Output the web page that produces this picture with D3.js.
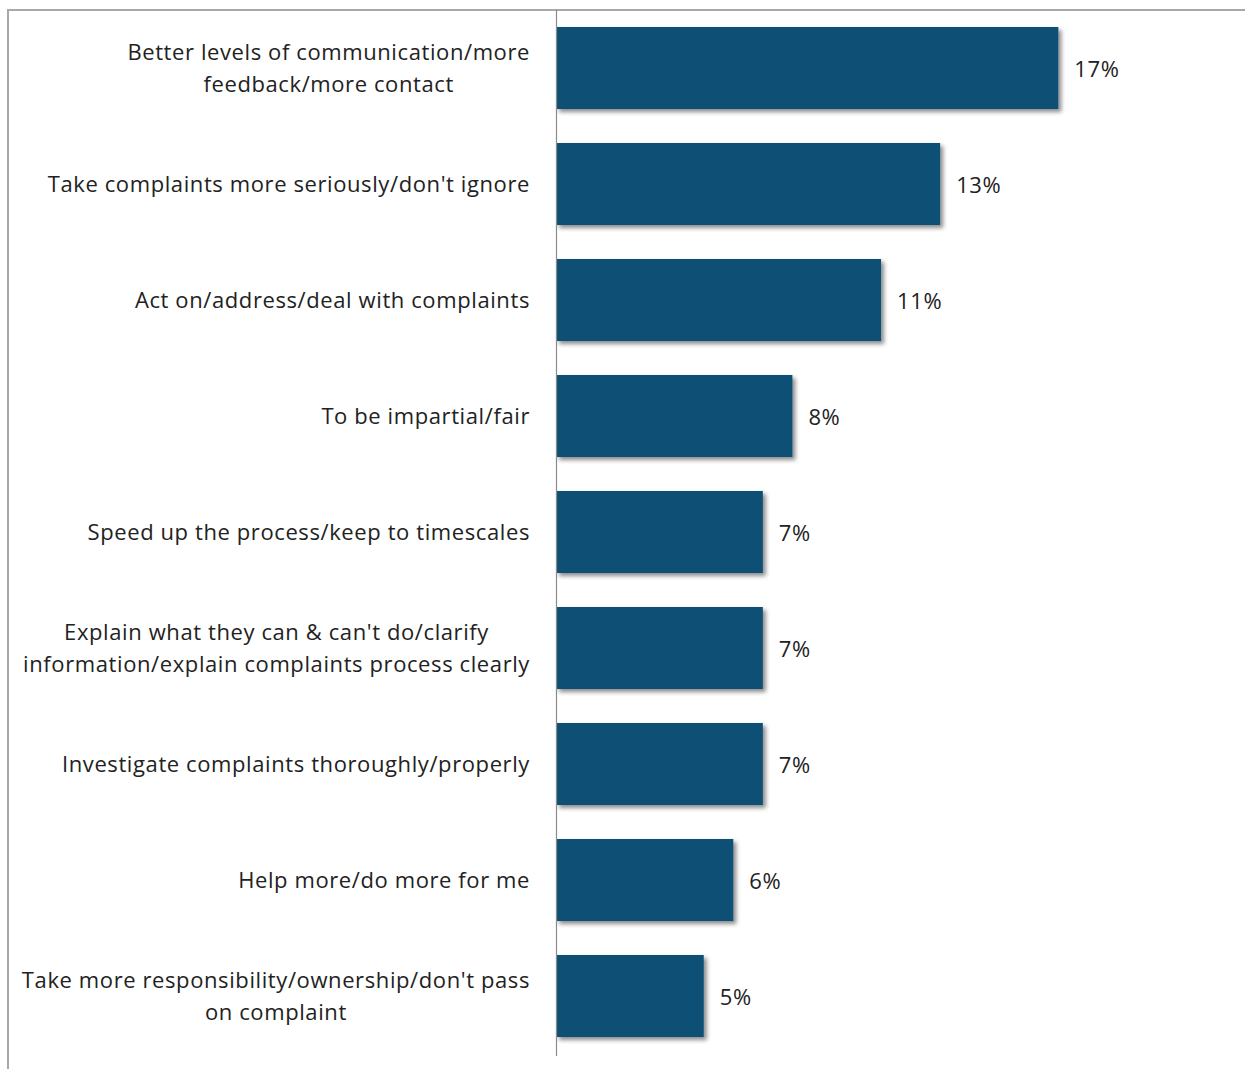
<!DOCTYPE html>
<html>
<head>
<meta charset="utf-8">
<script src="https://cdn.jsdelivr.net/npm/d3@7"></script>
<style>
  html, body { margin: 0; padding: 0; background: #fff; }
  svg { display: block; }
  text { font-family: "Open Sans", Lato, sans-serif; fill: #222; letter-spacing: 0.6px; }
</style>
</head>
<body>
<svg id="chart" width="1245" height="1069"></svg>
<script>
// Reasons, each split into the lines it is shown on
const categories = [
  ["Better levels of communication/more", "feedback/more contact"],
  ["Take complaints more seriously/don't ignore"],
  ["Act on/address/deal with complaints"],
  ["To be impartial/fair"],
  ["Speed up the process/keep to timescales"],
  ["Explain what they can & can't do/clarify", "information/explain complaints process clearly"],
  ["Investigate complaints thoroughly/properly"],
  ["Help more/do more for me"],
  ["Take more responsibility/ownership/don't pass", "on complaint"]
];
const values = [17, 13, 11, 8, 7, 7, 7, 6, 5];
const valueLabels = ["17%", "13%", "11%", "8%", "7%", "7%", "7%", "6%", "5%"];

const svg = d3.select("#chart");
const plotLeft = 556, plotTop = 10, plotBottom = 1054, plotRight = 1147;
const fontSize = 22;

// Outer chart frame (open to the right and bottom edges)
svg.append("rect")
  .attr("x", 8).attr("y", 10)
  .attr("width", 1260).attr("height", 1100)
  .attr("fill", "none")
  .attr("stroke", "#a8a8a8")
  .attr("stroke-width", 2);

const defs = svg.append("defs");
const shadow = defs.append("filter").attr("id", "barShadow")
  .attr("x", "-5%").attr("y", "-10%").attr("width", "115%").attr("height", "130%");
shadow.append("feDropShadow")
  .attr("dx", 3).attr("dy", 3).attr("stdDeviation", 2)
  .attr("flood-color", "#000").attr("flood-opacity", 0.45);

const keys = categories.map((c, i) => i);
const y = d3.scaleBand()
  .domain(keys)
  .range([plotTop, plotBottom])
  .paddingInner(0.293)
  .paddingOuter(0.1465);

const x = d3.scaleLinear().domain([0, 20]).range([plotLeft, plotRight]);

// Bars
svg.append("g").selectAll("rect")
  .data(keys)
  .join("rect")
  .attr("x", x(0))
  .attr("y", i => y(i))
  .attr("width", i => x(values[i]) - x(0))
  .attr("height", y.bandwidth())
  .attr("fill", "#114f74")
  .attr("filter", "url(#barShadow)");

// Category axis line
const axis = svg.append("g")
  .attr("transform", `translate(${plotLeft},0)`)
  .call(d3.axisLeft(y).tickSize(0).tickSizeOuter(0).tickFormat(""));
axis.select(".domain").attr("stroke", "#8c8c8c").attr("stroke-width", 1.2)
  .attr("d", `M0.5,${plotTop}V${plotBottom + 2}`);

// Category labels: block right-aligned to the axis, lines centred within the block
const lineGap = 32;
const labelRight = 530;
const labels = svg.append("g").attr("font-size", fontSize);
keys.forEach(i => {
  const lines = categories[i];
  const cy = y(i) + y.bandwidth() / 2;
  const t = labels.append("text")
    .attr("text-anchor", "middle")
    .attr("dominant-baseline", "central");
  const spans = lines.map((ln, k) => t.append("tspan")
    .attr("y", cy - 1 + (k - (lines.length - 1) / 2) * lineGap)
    .text(ln));
  const widest = d3.max(spans, s => s.node().getComputedTextLength());
  spans.forEach(s => s.attr("x", labelRight - widest / 2));
});

// Value labels
svg.append("g").attr("font-size", fontSize).selectAll("text")
  .data(keys)
  .join("text")
  .attr("x", i => x(values[i]) + 16)
  .attr("y", i => y(i) + y.bandwidth() / 2)
  .attr("dominant-baseline", "central")
  .text(i => valueLabels[i]);
</script>
</body>
</html>
